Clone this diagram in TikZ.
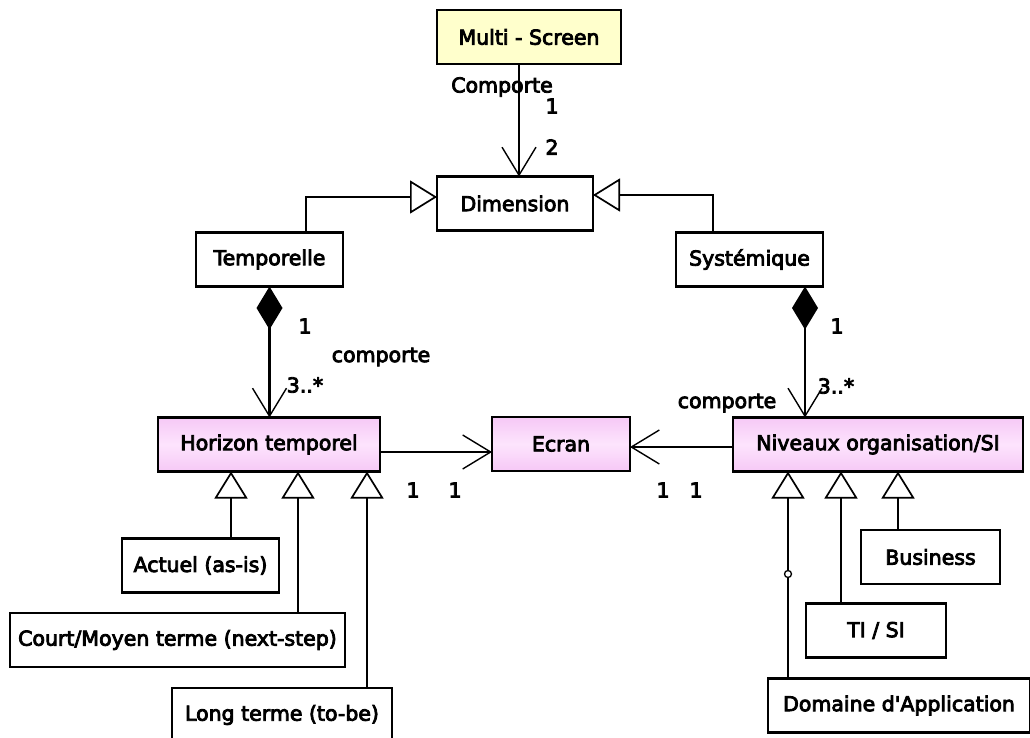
\documentclass[tikz,border=0pt]{standalone}
\usepackage{fontspec}
\usetikzlibrary{arrows.meta,calc}
\newfontfamily\uml{DejaVu Sans}[FakeBold=4]
\definecolor{clsyellow}{RGB}{255,255,204}
\definecolor{clspink}{RGB}{246,200,246}
\definecolor{clspinklight}{RGB}{253,228,253}
\tikzset{
  cls/.style={draw, line width=2.6pt, minimum height=54pt, inner sep=0pt, outer sep=0pt,
              fill=white, font=\uml\fontsize{20.5}{24}\selectfont},
  yellowcls/.style={cls, fill=clsyellow},
  pinkcls/.style={cls, top color=clspink, bottom color=clspink, middle color=clspinklight},
  link/.style={line width=2.6pt},
  nav/.style={link, -{Straight Barb[length=28pt,width=34pt,line width=1.4pt]}},
  gen/.style={link, -{Triangle[length=27pt,width=33pt,fill=white,line width=1.7pt]}},
  comp/.style={link, {Diamond[length=43pt,width=26pt]}-{Straight Barb[length=28pt,width=34pt,line width=1.4pt]}},
  lbl/.style={inner sep=0pt, font=\uml\fontsize{20.5}{24}\selectfont},
}
\begin{document}
\begin{tikzpicture}[x=1pt,y=-1pt]
\useasboundingbox (0,0) rectangle (1030,738);

% classes
\node[yellowcls, minimum width=184pt] (ms)    at (529,37)    {Multi - Screen};
\node[cls, minimum width=156pt]       (dim)   at (515,203.5) {Dimension};
\node[cls, minimum width=147pt]       (temp)  at (269.5,259.5) {Temporelle};
\node[cls, minimum width=147pt]       (sys)   at (749.5,259.5) {Systémique};
\node[pinkcls, minimum width=222pt]   (hor)   at (269,444.5) {Horizon temporel};
\node[pinkcls, minimum width=138pt]   (ecran) at (561,444)   {Ecran};
\node[pinkcls, minimum width=290pt]   (niv)   at (878,444.5) {Niveaux organisation/SI};
\node[cls, minimum width=157pt]       (act)   at (200.5,565.5) {Actuel (as-is)};
\node[cls, minimum width=335pt]       (court) at (177.5,640) {Court/Moyen terme (next-step)};
\node[cls, minimum width=220pt]       (long)  at (282,715)   {Long terme (to-be)};
\node[cls, minimum width=139pt]       (bus)   at (930.5,557) {Business};
\node[cls, minimum width=140pt]       (ti)    at (876,630.5) {TI / SI};
\node[cls, minimum width=262pt]       (dom)   at (899,705.5) {Domaine d'Application};

% Multi-Screen comporte Dimension
\draw[nav] ([xshift=-10pt]ms.south) -- ([xshift=-10pt]ms.south |- dim.north);
\node[lbl] (lcomp1) at (502,87)  {Comporte};
\node[lbl] (lm1)    at (552,106) {1};
\node[lbl] (lm2)    at (552,147) {2};

% generalisations towards Dimension
\draw[gen] ([xshift=36.5pt]temp.north) |- ([yshift=6.5pt]dim.west);
\draw[gen] ([xshift=-36.5pt]sys.north) |- ([yshift=8.5pt]dim.east);

% compositions
\draw[comp] (temp.south) -- (temp.south |- hor.north);
\node[lbl] (lt1)  at (305,326) {1};
\node[lbl] (ltc)  at (381,357) {comporte};
\node[lbl] (lt3)  at (305,385) {3..*};

\draw[comp] ([xshift=55.5pt]sys.south) -- ([xshift=55.5pt]sys.south |- niv.north);
\node[lbl] (ls1)  at (837,326) {1};
\node[lbl] (ls3)  at (836,386) {3..*};
\node[lbl] (lsc)  at (727,403) {comporte};

% associations towards Ecran
\draw[nav] ([yshift=-7.5pt]hor.east) -- ([yshift=-7.5pt]hor.east -| ecran.west);
\node[lbl] (lh1) at (413,490) {1};
\node[lbl] (lh2) at (455,490) {1};
\draw[nav] ([yshift=-2.5pt]niv.west) -- ([yshift=-2.5pt]niv.west -| ecran.east);
\node[lbl] (ln1) at (663,490) {1};
\node[lbl] (ln2) at (696,490) {1};

% specialisations of Horizon temporel
\draw[gen] ([xshift=30.5pt]act.north)   -- ([xshift=30.5pt]act.north |- hor.south);
\draw[gen] ([xshift=120.5pt]court.north) -- ([xshift=120.5pt]court.north |- hor.south);
\draw[gen] ([xshift=85pt]long.north)    -- ([xshift=85pt]long.north |- hor.south);

% specialisations of Niveaux organisation/SI
\draw[gen] ([xshift=-111pt]dom.north)  -- ([xshift=-111pt]dom.north |- niv.south);
\draw[gen] ([xshift=-35pt]ti.north)    -- ([xshift=-35pt]ti.north |- niv.south);
\draw[gen] ([xshift=-32.5pt]bus.north) -- ([xshift=-32.5pt]bus.north |- niv.south);
\node[circle, draw, fill=white, line width=1.3pt, inner sep=0pt, minimum size=7pt] (knot) at (788,574) {};
\end{tikzpicture}
\end{document}
